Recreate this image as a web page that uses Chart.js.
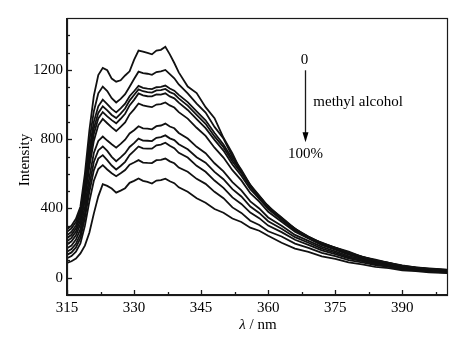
<!DOCTYPE html>
<html>
<head>
<meta charset="utf-8">
<script src="https://cdn.jsdelivr.net/npm/chart.js@4/dist/chart.umd.min.js"></script>
<style>
  html, body { margin: 0; padding: 0; background: #fff; }
  #wrap { width: 457px; height: 340px; position: relative; }
</style>
</head>
<body>
<div id="wrap"><canvas id="spec"></canvas></div>
<script>
// wavelength grid (nm)
const wavelengths = [315,316,317,318,319,320,321,322,323,324,325,326,327,328,329,330,331,332,333,334,335,336,337,338,339,340,
  342,344,346,348,350,352,354,356,358,360,
  363,366,369,372,375,378,381,384,387,390,393,396,400];

// fluorescence intensity, 0% -> 100% methyl alcohol
const meoh0   = [280,300,340,410,600,850,1050,1170,1212,1198,1150,1132,1140,1168,1192,1258,1312,1306,1298,1290,1312,1316,1334,1290,1240,1186,
  1104,1066,985,921,808,718,609,536,455,416, 336,284,229,203,173,150,120,104,85,71,59,54, 46];
const meoh10  = [265,285,322,390,560,790,960,1065,1104,1078,1037,1012,1033,1060,1103,1148,1190,1182,1178,1172,1188,1192,1200,1176,1152,1116,
  1064,1006,954,871,804,700,624,536,474,412, 348,283,238,200,174,145,122,100,86,68,60,51, 45];
const meoh20  = [245,265,302,370,530,740,900,990,1028,1003,975,955,978,1005,1048,1077,1108,1097,1092,1089,1100,1102,1110,1093,1080,1056,
  1014,961,909,836,769,686,616,531,471,409, 345,279,236,198,172,142,120,99,85,66,58,50, 44];
const meoh30  = [228,248,285,352,505,705,862,952,990,966,940,922,948,977,1023,1055,1088,1077,1072,1069,1082,1083,1090,1072,1061,1036,
  994,941,889,816,754,671,604,524,466,404, 341,277,234,196,169,140,118,97,83,65,57,49, 43];
const meoh40  = [210,230,266,332,480,675,830,920,957,932,910,892,918,947,995,1027,1064,1053,1048,1047,1058,1057,1065,1047,1036,1011,
  969,916,864,796,734,654,589,511,456,396, 335,273,231,193,166,136,116,95,81,63,56,48, 42];
const meoh50  = [192,210,245,310,450,640,790,880,917,892,868,847,871,897,943,972,1006,995,990,985,1000,1003,1012,995,983,956,
  919,866,819,751,694,621,562,488,439,381, 323,265,226,188,162,133,113,93,79,61,55,46, 41];
const meoh60  = [170,186,220,280,410,580,720,790,815,792,771,751,773,797,833,852,875,863,861,857,875,879,890,873,863,836,
  804,756,719,661,614,552,504,441,400,348, 300,247,213,178,152,125,107,88,75,58,52,44, 38];
const meoh70  = [150,165,196,252,375,535,668,735,758,732,698,673,695,719,755,777,803,792,791,789,808,812,822,805,795,771,
  742,696,664,611,569,511,469,411,374,326, 283,234,202,168,144,118,101,83,71,55,49,41, 36];
const meoh80  = [132,146,175,228,345,495,620,688,708,679,648,625,645,669,708,732,758,747,745,745,765,769,780,762,748,721,
  694,646,612,561,519,464,426,376,344,301, 263,219,190,158,136,111,95,78,67,51,46,38, 33];
const meoh90  = [112,125,150,198,300,440,560,628,650,625,603,586,603,622,653,665,679,665,663,662,679,681,688,672,661,636,
  612,571,542,496,459,406,374,329,304,268, 238,197,172,143,124,101,88,72,62,48,43,35, 30];
const meoh100 = [85,95,110,140,185,260,370,470,540,530,515,491,503,517,548,559,573,559,553,544,561,563,572,557,546,522,
  496,459,433,397,375,342,322,289,271,242, 202,168,149,123,108,88,77,63,55,43,38,31, 26];

const allSeries = [meoh0, meoh10, meoh20, meoh30, meoh40, meoh50, meoh60, meoh70, meoh80, meoh90, meoh100];

const xTicks = [315, 330, 345, 360, 375, 390];
const xMinor = [322.5, 337.5, 352.5, 367.5, 382.5, 397.5];
const yTicks = [0, 400, 800, 1200];
const yMinor = [100, 200, 300, 500, 600, 700, 900, 1000, 1100, 1300, 1400];

const SERIF = "'Liberation Serif', 'Times New Roman', serif";

// box, inward ticks, axis titles and the arrow note
const frame = {
  id: 'frame',
  afterDraw(chart) {
    const { ctx, chartArea: a, scales: { x, y } } = chart;
    ctx.save();
    ctx.strokeStyle = '#1a1a1a';
    ctx.lineWidth = 1.2;
    ctx.strokeRect(a.left + 0.5, a.top + 0.5, a.right - a.left, a.bottom - a.top);
    ctx.lineWidth = 2;
    ctx.beginPath();
    ctx.moveTo(a.left, a.top);
    ctx.lineTo(a.left, a.bottom);
    ctx.lineTo(a.right, a.bottom);
    ctx.stroke();

    ctx.lineWidth = 1.3;
    const tick = (vals, len, horiz) => vals.forEach(v => {
      ctx.beginPath();
      if (horiz) {
        const px = Math.round(x.getPixelForValue(v)) + 0.5;
        ctx.moveTo(px, a.bottom); ctx.lineTo(px, a.bottom - len);
      } else {
        const py = Math.round(y.getPixelForValue(v)) + 0.5;
        ctx.moveTo(a.left, py); ctx.lineTo(a.left + len, py);
      }
      ctx.stroke();
    });
    tick(xTicks, 5, true); tick(xMinor, 3, true);
    tick(yTicks, 5, false); tick(yMinor, 3, false);

    ctx.fillStyle = '#000';
    ctx.font = '15px ' + SERIF;
    ctx.textBaseline = 'middle';

    // y title
    ctx.save();
    ctx.translate(25, 160);
    ctx.rotate(-Math.PI / 2);
    ctx.textAlign = 'center';
    ctx.fillText('Intensity', 0, 0);
    ctx.restore();

    // x title: italic lambda + " / nm"
    const lam = 'λ', rest = ' / nm';
    ctx.font = 'italic 15px ' + SERIF;
    const w1 = ctx.measureText(lam).width;
    ctx.font = '15px ' + SERIF;
    const w2 = ctx.measureText(rest).width;
    let tx = 258 - (w1 + w2) / 2;
    ctx.textAlign = 'left';
    ctx.font = 'italic 15px ' + SERIF;
    ctx.fillText(lam, tx, 325);
    ctx.font = '15px ' + SERIF;
    ctx.fillText(rest, tx + w1, 325);

    // arrow note
    const ax = Math.round(x.getPixelForValue(368.3)) + 0.5;
    const y0 = y.getPixelForValue(1198), y1 = y.getPixelForValue(783);
    ctx.textAlign = 'center';
    ctx.fillText('0', ax - 1, y.getPixelForValue(1256));
    ctx.fillText('100%', ax, y.getPixelForValue(715));
    ctx.textAlign = 'left';
    ctx.fillText('methyl alcohol', x.getPixelForValue(370.1), y.getPixelForValue(1013));
    ctx.lineWidth = 1.3;
    ctx.beginPath();
    ctx.moveTo(ax, y0); ctx.lineTo(ax, y1 - 8);
    ctx.stroke();
    ctx.beginPath();
    ctx.moveTo(ax, y1); ctx.lineTo(ax - 3, y1 - 10); ctx.lineTo(ax + 3, y1 - 10);
    ctx.closePath();
    ctx.fill();
    ctx.restore();
  }
};

new Chart(document.getElementById('spec'), {
  type: 'line',
  data: {
    datasets: allSeries.map(s => ({
      data: wavelengths.map((w, i) => ({ x: w, y: s[i] })),
      borderColor: '#111',
      borderWidth: 1.8,
      pointRadius: 0,
      tension: 0,
      fill: false
    }))
  },
  options: {
    responsive: true,
    maintainAspectRatio: false,
    animation: false,
    layout: { padding: { left: 0, right: 10, top: 18, bottom: 0 } },
    plugins: { legend: { display: false }, tooltip: { enabled: false } },
    scales: {
      x: {
        type: 'linear', min: 315, max: 400,
        grid: { display: false, drawTicks: false },
        border: { display: false },
        afterBuildTicks: s => { s.ticks = xTicks.map(v => ({ value: v })); },
        afterFit: s => { s.height = 45; },
        ticks: { color: '#000', font: { family: SERIF, size: 15 }, padding: 4, maxRotation: 0, autoSkip: false, callback: v => String(v) }
      },
      y: {
        type: 'linear', min: -100, max: 1500,
        grid: { display: false, drawTicks: false },
        border: { display: false },
        afterBuildTicks: s => { s.ticks = yTicks.map(v => ({ value: v })); },
        afterFit: s => { s.width = 67; },
        ticks: { color: '#000', font: { family: SERIF, size: 15 }, padding: 4, callback: v => String(v) }
      }
    }
  },
  plugins: [frame]
});
</script>
</body>
</html>
